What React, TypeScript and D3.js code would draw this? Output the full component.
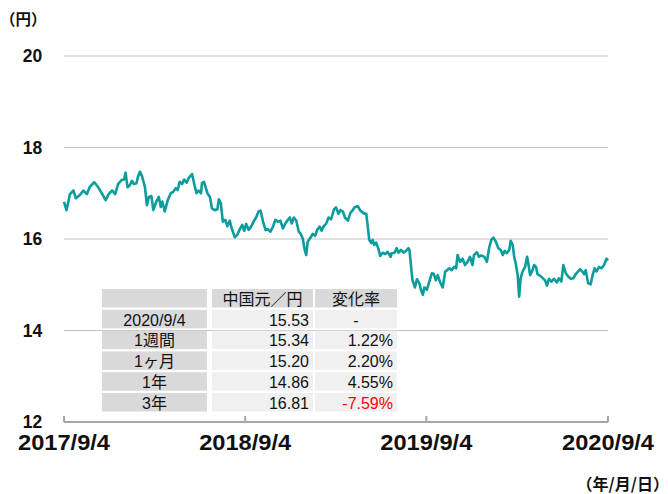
import React from "react";
import * as d3 from "d3";

const startDate = "2017-09-04";
const endDate = "2020-09-04";
// day offsets from startDate and CNY/JPY values
const dayOffsets = [0,5,12,19,24,32,39,46,52,61,69,76,84,90,97,103,109,116,121,124,128,133,137,141,146,149,153,157,163,167,171,176,180,186,191,195,198,203,209,215,220,225,229,233,238,242,247,251,258,262,267,271,276,278,282,289,294,298,304,309,312,316,320,325,329,334,338,344,349,354,359,363,367,372,377,383,387,392,396,401,406,411,416,421,426,431,436,441,446,451,455,459,463,468,473,477,481,485,488,491,497,501,506,510,515,519,523,528,533,538,544,548,553,557,562,566,572,577,582,585,592,597,604,609,612,615,619,622,625,629,633,637,642,647,652,658,660,666,670,674,679,684,689,694,696,699,702,707,711,716,719,723,726,731,736,741,745,749,753,758,763,768,772,776,781,786,790,793,798,803,808,813,818,823,826,832,836,841,847,852,857,861,865,870,875,880,884,888,892,897,900,904,907,910,914,917,920,924,929,933,935,939,944,947,951,954,959,964,969,973,977,982,987,993,997,1002,1006,1011,1016,1021,1026,1031,1036,1040,1044,1048,1051,1056,1061,1065,1069,1073,1078,1083,1088,1093,1096];
const rates = [16.81,16.63,16.98,17.06,16.89,16.96,17.06,16.98,17.14,17.24,17.13,17.0,16.85,16.98,17.06,16.98,17.2,17.29,17.3,17.45,17.13,17.18,17.27,17.2,17.22,17.36,17.47,17.38,17.14,16.74,16.92,16.94,16.63,16.82,16.92,16.7,16.82,16.6,16.85,17.0,17.03,17.11,17.07,17.25,17.2,17.3,17.23,17.33,17.42,17.22,17.0,17.06,17.0,17.22,17.25,17.0,16.92,16.67,16.63,16.65,16.87,16.78,16.38,16.42,16.28,16.4,16.23,16.04,16.09,16.21,16.31,16.18,16.33,16.2,16.27,16.4,16.47,16.6,16.62,16.38,16.2,16.21,16.16,16.27,16.42,16.38,16.4,16.23,16.34,16.42,16.47,16.34,16.47,16.4,16.16,16.11,16.01,15.76,15.65,15.94,16.04,16.11,16.07,16.2,16.27,16.18,16.28,16.33,16.47,16.43,16.65,16.69,16.55,16.63,16.6,16.47,16.4,16.57,16.63,16.69,16.72,16.62,16.56,16.55,16.27,15.98,15.91,15.98,15.87,15.92,15.8,15.63,15.7,15.67,15.72,15.61,15.69,15.7,15.8,15.7,15.76,15.7,15.74,15.8,15.76,15.43,15.1,14.94,15.12,15.03,14.89,14.78,14.94,14.89,15.07,15.25,15.24,15.1,15.21,15.05,14.94,15.29,15.32,15.36,15.32,15.39,15.36,15.65,15.5,15.57,15.43,15.5,15.61,15.43,15.65,15.71,15.61,15.64,15.61,15.5,15.83,15.98,16.03,15.94,15.8,15.76,15.65,15.74,15.69,15.76,15.96,15.87,15.61,15.47,15.21,14.74,15.14,15.29,15.39,15.61,15.5,15.21,15.32,15.43,15.39,15.23,15.2,15.15,15.1,14.98,15.13,15.07,15.13,15.05,15.14,15.07,15.43,15.25,15.18,15.13,15.14,15.23,15.29,15.34,15.29,15.23,15.32,15.03,15.01,15.21,15.36,15.29,15.39,15.36,15.43,15.57,15.53];

const yTicks = [12, 14, 16, 18, 20];
const xTickDates = ["2017-09-04", "2018-09-04", "2019-09-04", "2020-09-04"];
const xTickLabels = ["2017/9/4", "2018/9/4", "2019/9/4", "2020/9/4"];

const tableHeader = ["", "中国元／円", "変化率"];
const rowLabels = ["2020/9/4", "1週間", "1ヶ月", "1年", "3年"];
const rateCells = ["15.53", "15.34", "15.20", "14.86", "16.81"];
const changeCells = ["-", "1.22%", "2.20%", "4.55%", "-7.59%"];

const parse = d3.utcParse("%Y-%m-%d");

export default function App() {
  const W = 668, H = 494;
  const x = d3.scaleUtc().domain([parse(startDate)!, parse(endDate)!]).range([64, 608]);
  const y = d3.scaleLinear().domain([12, 20]).range([422, 56]);
  const start = parse(startDate)!;
  const data = dayOffsets.map((d, i) => ({ date: d3.utcDay.offset(start, d), v: rates[i] }));
  const line = d3.line<{ date: Date; v: number }>().x(d => x(d.date)).y(d => y(d.v));

  const colX = [102, 212, 315];
  const colW = [105, 101, 82];
  const rowTop = 289;
  const rowPitch = 20.8;
  const rowH = 18.5;
  const tableFont = "'Liberation Sans', 'Noto Sans CJK JP', sans-serif";
  const boldFont = "'Noto Sans CJK JP', sans-serif";

  const rows = [tableHeader, ...rowLabels.map((r, i) => [r, rateCells[i], changeCells[i]])];

  return (
    <svg width={W} height={H} style={{ position: "absolute", left: 0, top: 0, background: "#fff" }}>
      {/* gridlines */}
      {yTicks.filter(t => t !== 12).map(t => (
        <line key={t} x1={64} x2={608} y1={y(t)} y2={y(t)} stroke="#c4c4c4" strokeWidth={1.2} />
      ))}
      {/* y labels */}
      {yTicks.map(t => (
        <text key={"yl" + t} x={32.5} y={y(t)} textAnchor="middle" dominantBaseline="central"
          fontFamily="'Liberation Sans', sans-serif" fontWeight="bold" fontSize={17.5} fill="#111">{t}</text>
      ))}
      {/* line */}
      <path d={line(data) || ""} fill="none" stroke="#0b9c9c" strokeWidth={2.6} strokeLinejoin="round" />
      {/* x axis */}
      <line x1={64} x2={608} y1={422} y2={422} stroke="#a6a6a6" strokeWidth={2} />
      {xTickDates.map((d, i) => (
        <g key={d}>
          <line x1={x(parse(d)!)} x2={x(parse(d)!)} y1={422} y2={416} stroke="#a6a6a6" strokeWidth={2} />
          <text x={x(parse(d)!)} y={450} textAnchor="middle" fontFamily="'Liberation Sans', sans-serif" fontWeight="bold"
            fontSize={22} fill="#111" textLength={92} lengthAdjust="spacingAndGlyphs">{xTickLabels[i]}</text>
        </g>
      ))}
      {/* table */}
      {rows.map((row, ri) => (
        <g key={"r" + ri}>
          {row.map((cell, ci) => {
            const top = rowTop + ri * rowPitch;
            const fill = ri === 0 || ci === 0 ? "#d9d9d9" : "#f0f0f0";
            const isRight = ri > 0 && ci > 0 && cell !== "-";
            const tx = isRight ? colX[ci] + colW[ci] - 4 : colX[ci] + colW[ci] / 2;
            const color = cell.startsWith("-") && cell.length > 1 ? "#ff0000" : "#111";
            return (
              <g key={"c" + ci}>
                <rect x={colX[ci]} y={top} width={colW[ci]} height={rowH} fill={fill} />
                <text x={tx} y={top + rowH / 2 + 1} textAnchor={isRight ? "end" : "middle"} dominantBaseline="central"
                  fontFamily={tableFont} fontSize={16} fill={color}>{cell}</text>
              </g>
            );
          })}
        </g>
      ))}
      {/* unit labels */}
      <text x={0} y={25} fontFamily={boldFont} fontWeight="bold" fontSize={15.5} fill="#111">（円）</text>
      <text x={669} y={490} textAnchor="end" fontFamily={boldFont} fontWeight="bold" fontSize={16} fill="#111">（年/月/日）</text>
    </svg>
  );
}
